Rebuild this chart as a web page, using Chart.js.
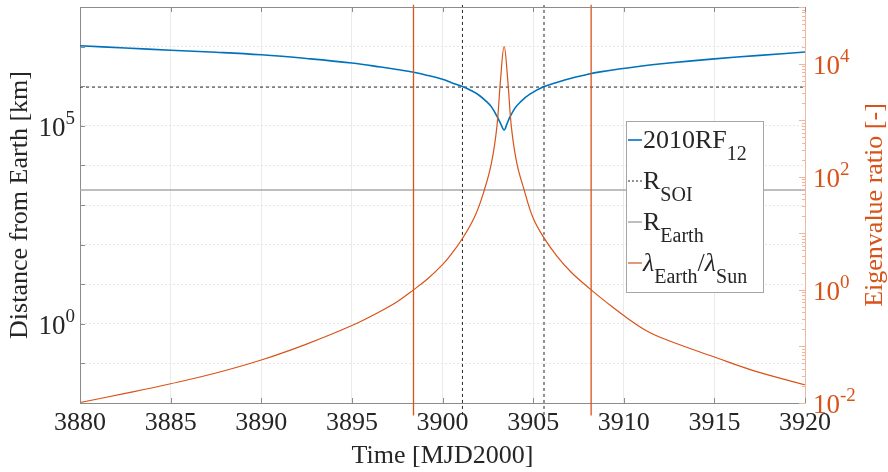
<!DOCTYPE html>
<html>
<head>
<meta charset="utf-8">
<script src="https://cdn.jsdelivr.net/npm/chart.js@4.4.0/dist/chart.umd.min.js"></script>
<style>
  body { margin: 0; background: #fff; }
  #wrap { width: 888px; height: 472px; }
</style>
</head>
<body>
<div id="wrap"><canvas id="chart" width="888" height="472"></canvas></div>
<script>
// Axe des temps [MJD2000]
const timeRange = [3880, 3920];

// Distance de 2010RF12 à la Terre [km]
const distTimes = [3880, 3882.5, 3885, 3887.5, 3890, 3892.5, 3895, 3896.6, 3897.5, 3898.4, 3899.2, 3900, 3900.5, 3901.1, 3901.6, 3902, 3902.4, 3902.7, 3903, 3903.2, 3903.4, 3903.55, 3903.7, 3904, 3904.3, 3904.8, 3905.6, 3906.2, 3907, 3907.8, 3908.7, 3910.9, 3912.5, 3915, 3917.5, 3920];
const distValues = [1.05e7, 9.2e6, 8.1e6, 7.2e6, 6.2e6, 5.0e6, 3.85e6, 3.05e6, 2.63e6, 2.24e6, 1.86e6, 1.5e6, 1.23e6, 9.8e5, 7.7e5, 6.0e5, 4.2e5, 3.0e5, 1.75e5, 1.15e5, 7.8e4, 1.1e5, 1.6e5, 2.8e5, 4.0e5, 6.2e5, 9.8e5, 1.2e6, 1.55e6, 1.9e6, 2.3e6, 3.2e6, 3.85e6, 4.9e6, 6.0e6, 7.3e6];

// Rapport des valeurs propres lambda_Earth / lambda_Sun [-]
const ratioTimes = [3880, 3882.5, 3885, 3887.5, 3890, 3892.5, 3895, 3896.5, 3897.5, 3898.4, 3899.2, 3900, 3900.4, 3901.1, 3901.8, 3902.3, 3902.7, 3903, 3903.2, 3903.4, 3903.6, 3903.8, 3904.1, 3904.5, 3905, 3905.6, 3906.3, 3907.1, 3908.2, 3909, 3910.2, 3911.3, 3912.5, 3915, 3917.2, 3920];
const ratioValues = [0.0102, 0.0148, 0.0219, 0.0339, 0.0575, 0.110, 0.234, 0.407, 0.617, 1.0, 1.59, 2.8, 3.95, 8.1, 20.5, 57, 174, 760, 5100, 20000, 5100, 760, 174, 59, 18.6, 8.3, 4.0, 2.05, 1.0, 0.62, 0.316, 0.186, 0.126, 0.065, 0.037, 0.021];

// Rayons de référence [km]
const rSoi = 9.5e5;
const rEarth = 2400;

// Lignes verticales : entrée/sortie de la SOI, et rapport = 1
const soiTimes = [3901.1, 3905.6];
const unitRatioTimes = [3898.4, 3908.2];
const soiSpan = [5e-3, 1.12e8];
const unitSpan = [6e-3, 1.1e5];

// Étiquettes des axes y
const leftLabelValues = [1, 1e5];
const rightLabelValues = [1e-2, 1, 1e2, 1e4];

// Légende (texte, indice ?, italique ?)
const legendItems = [
  [['2010RF', 0, 0], ['12', 1, 0]],
  [['R', 0, 0], ['SOI', 1, 0]],
  [['R', 0, 0], ['Earth', 1, 0]],
  [['λ', 0, 1], ['Earth', 1, 0], ['/', 0, 0], ['λ', 0, 1], ['Sun', 1, 0]]
];

const blue = '#0072BD';
const orange = '#D95319';
const paleOrange = '#f0b79e';
const textColor = '#262626';
const serif = "'Liberation Serif', 'Times New Roman', serif";

function pts(xs, ys) {
  return xs.map((x, i) => ({ x: x, y: ys[i] }));
}

function seg(ctx, x1, y1, x2, y2) {
  ctx.beginPath();
  ctx.moveTo(x1, y1);
  ctx.lineTo(x2, y2);
  ctx.stroke();
}

// Étiquette 10^n
function powerLabel(ctx, v, x, y, align) {
  const base = '10';
  const exp = String(Math.round(Math.log10(v)));
  ctx.font = '27px ' + serif;
  const wb = ctx.measureText(base).width;
  ctx.font = '19px ' + serif;
  const we = ctx.measureText(exp).width;
  const x0 = align === 'right' ? x - wb - we : x;
  ctx.textAlign = 'left';
  ctx.textBaseline = 'alphabetic';
  ctx.font = '27px ' + serif;
  ctx.fillText(base, x0, y + 10);
  ctx.font = '19px ' + serif;
  ctx.fillText(exp, x0 + wb, y - 2);
}

const decorPlugin = {
  id: 'decor',
  afterDraw(chart) {
    const { ctx, chartArea: a, scales } = chart;
    const sx = scales.x, yl = scales.yL, yr = scales.yR;
    ctx.save();
    ctx.lineWidth = 1;

    // cadre du haut et graduations intérieures
    ctx.strokeStyle = '#8c8c8c';
    seg(ctx, a.left, a.top + 0.5, a.right, a.top + 0.5);
    sx.ticks.forEach(t => {
      const px = Math.round(sx.getPixelForValue(t.value)) + 0.5;
      seg(ctx, px, a.bottom, px, a.bottom - 5);
      seg(ctx, px, a.top, px, a.top + 5);
    });
    yl.ticks.forEach(t => {
      const py = Math.round(yl.getPixelForValue(t.value)) + 0.5;
      seg(ctx, a.left, py, a.left + 5, py);
    });
    ctx.strokeStyle = paleOrange;
    yr.ticks.forEach(t => {
      const py = Math.round(yr.getPixelForValue(t.value)) + 0.5;
      seg(ctx, a.right, py, a.right - (t.major ? 6 : 3), py);
    });

    // étiquettes des axes y
    ctx.fillStyle = textColor;
    leftLabelValues.forEach(v => powerLabel(ctx, v, a.left - 5, yl.getPixelForValue(v), 'right'));
    ctx.fillStyle = orange;
    rightLabelValues.forEach(v => powerLabel(ctx, v, a.right + 8, yr.getPixelForValue(v), 'left'));

    // titre de l'axe de droite
    ctx.save();
    ctx.translate(875, (a.top + a.bottom) / 2);
    ctx.rotate(-Math.PI / 2);
    ctx.font = '26px ' + serif;
    ctx.textAlign = 'center';
    ctx.textBaseline = 'middle';
    ctx.fillText('Eigenvalue ratio [-]', 0, 0);
    ctx.restore();

    // légende
    const box = { x: 626.5, y: 121.5, w: 137, h: 171 };
    ctx.fillStyle = '#fff';
    ctx.fillRect(box.x, box.y, box.w, box.h);
    ctx.strokeStyle = '#a6a6a6';
    ctx.strokeRect(box.x, box.y, box.w, box.h);
    const sets = chart.data.datasets;
    legendItems.forEach((parts, i) => {
      const base = 148 + i * 41;
      const ds = sets[i];
      ctx.strokeStyle = ds.borderColor;
      ctx.lineWidth = ds.borderWidth;
      ctx.setLineDash(ds.borderDash ? [2, 2] : []);
      seg(ctx, 628, base - 8, 642, base - 8);
      ctx.setLineDash([]);
      ctx.fillStyle = textColor;
      ctx.textAlign = 'left';
      ctx.textBaseline = 'alphabetic';
      let x = 643;
      parts.forEach(([txt, sub, ital]) => {
        ctx.font = (ital ? 'italic ' : '') + (sub ? '20px ' : '26px ') + serif;
        ctx.fillText(txt, x, sub ? base + 12 : base);
        x += ctx.measureText(txt).width;
      });
    });
    ctx.restore();
  }
};

const vertical = (t, span, axis, color, dash) => ({
  data: [{ x: t, y: span[0] }, { x: t, y: span[1] }],
  yAxisID: axis,
  borderColor: color,
  borderWidth: dash ? 1 : 1.3,
  borderDash: dash ? [3, 3] : undefined,
  pointRadius: 0,
  tension: 0,
  clip: false,
  order: dash ? 2 : 0
});

new Chart(document.getElementById('chart'), {
  type: 'line',
  data: {
    datasets: [
      { label: '2010RF12', data: pts(distTimes, distValues), yAxisID: 'yL', borderColor: blue, borderWidth: 1.6, pointRadius: 0, tension: 0.4, order: 3 },
      { label: 'R_SOI', data: pts(timeRange, [rSoi, rSoi]), yAxisID: 'yL', borderColor: textColor, borderWidth: 1, borderDash: [3, 3], pointRadius: 0, order: 4 },
      { label: 'R_Earth', data: pts(timeRange, [rEarth, rEarth]), yAxisID: 'yL', borderColor: '#a8a8a8', borderWidth: 1.5, pointRadius: 0, order: 5 },
      { label: 'lambda', data: pts(ratioTimes, ratioValues), yAxisID: 'yR', borderColor: orange, borderWidth: 1.2, pointRadius: 0, tension: 0.4, order: 1 },
      ...soiTimes.map(t => vertical(t, soiSpan, 'yL', textColor, true)),
      ...unitRatioTimes.map(t => vertical(t, unitSpan, 'yR', orange, false))
    ]
  },
  options: {
    responsive: false,
    animation: false,
    devicePixelRatio: 1,
    layout: { padding: { top: 7, left: 0, right: 0, bottom: 0 } },
    plugins: { legend: { display: false }, tooltip: { enabled: false } },
    scales: {
      x: {
        type: 'linear',
        min: timeRange[0],
        max: timeRange[1],
        ticks: { stepSize: 5, color: textColor, font: { family: serif, size: 26 }, padding: 5, maxRotation: 0, callback: v => String(v) },
        grid: { color: '#ebebeb', drawTicks: false },
        border: { color: '#8c8c8c' },
        title: { display: true, text: 'Time [MJD2000]', color: textColor, font: { family: serif, size: 26 }, padding: { top: 1, bottom: 0 } },
        afterFit: s => { s.height = 69; }
      },
      yL: {
        type: 'logarithmic',
        position: 'left',
        min: 1e-2,
        max: 1e8,
        afterBuildTicks: s => {
          const t = [];
          for (let k = -2; k <= 8; k++) t.push({ value: Math.pow(10, k), major: true });
          s.ticks = t;
        },
        ticks: { display: false },
        grid: { color: '#e6e6e6', drawTicks: false },
        border: { color: '#8c8c8c', dash: [2, 2] },
        title: { display: true, text: 'Distance from Earth [km]', color: textColor, font: { family: serif, size: 26 }, padding: { top: 5, bottom: 0 } },
        afterFit: s => { s.width = 80; }
      },
      yR: {
        type: 'logarithmic',
        position: 'right',
        min: 1e-2,
        max: 1e5,
        afterBuildTicks: s => {
          const t = [];
          for (let k = -2; k <= 4; k++) {
            for (let m = 1; m <= 9; m++) t.push({ value: m * Math.pow(10, k), major: m === 1 });
          }
          t.push({ value: 1e5, major: true });
          s.ticks = t;
        },
        ticks: { display: false },
        grid: { drawOnChartArea: false, drawTicks: false },
        border: { color: paleOrange },
        afterFit: s => { s.width = 83; }
      }
    }
  },
  plugins: [decorPlugin]
});
</script>
</body>
</html>
